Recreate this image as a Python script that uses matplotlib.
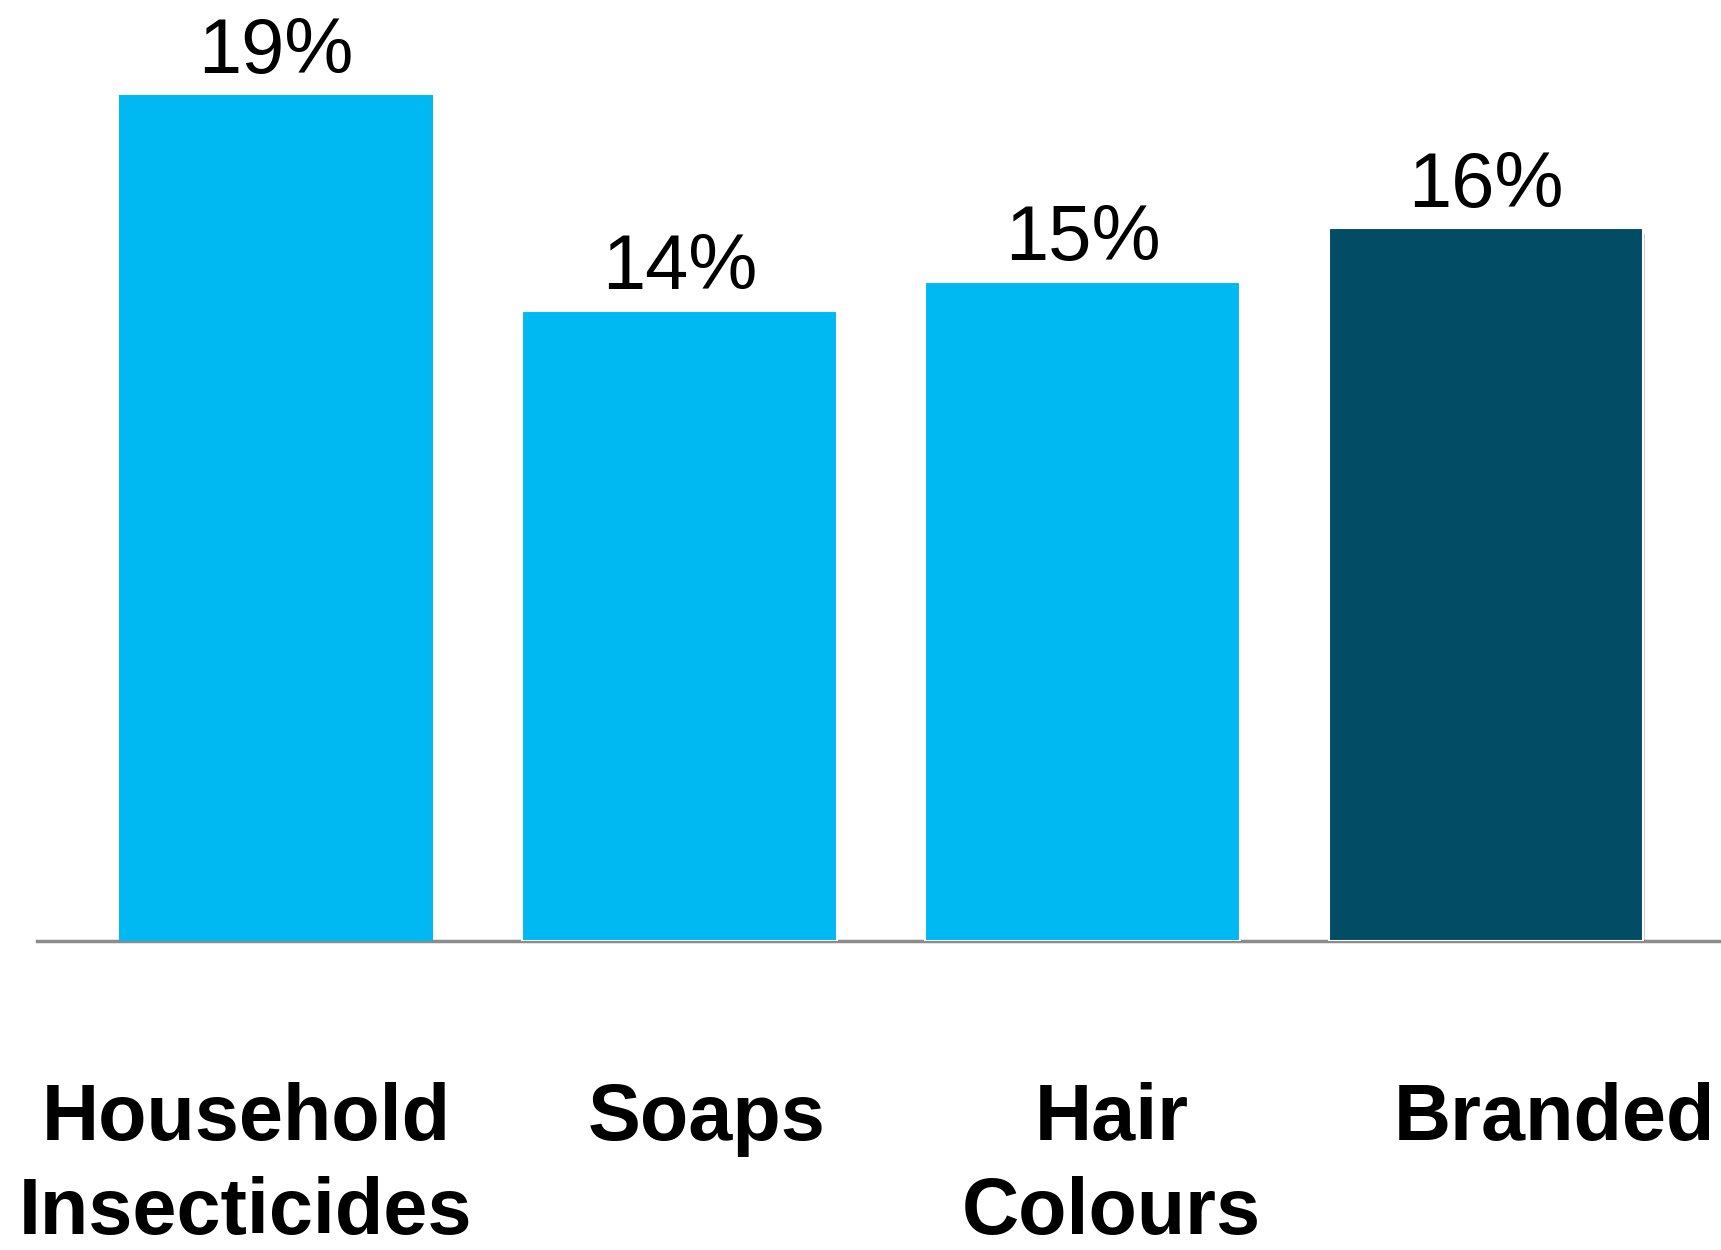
import matplotlib
matplotlib.use('Agg')
import matplotlib.pyplot as plt
import matplotlib.patheffects as pe
import matplotlib.transforms as mtransforms

categories = ['Household\nInsecticides', 'Soaps', 'Hair\nColours', 'Branded']
values = [19.0, 14.15, 14.8, 16.0]
value_labels = ['19%', '14%', '15%', '16%']

light_blue = '#00B9F2'
dark_blue = '#024C66'
colors = [light_blue, light_blue, light_blue, dark_blue]
# labels sit a little off the bar centres in the original
label_shift = [-0.075, 0.067, 0.072, 0.17]

plt.rcParams['font.family'] = ['Liberation Sans', 'DejaVu Sans']

fig = plt.figure(figsize=(17.21, 12.5), dpi=100)
ax = fig.add_axes([37 / 1721, 0.2472, 1 - 37 / 1721, 0.7528])

x = list(range(len(categories)))
bars = ax.bar(x, values, width=0.78, color=colors, zorder=3)

# bars after the first one have a thin white rim and a soft shadow
for b in bars[1:]:
    b.set_edgecolor('white')
    b.set_linewidth(1.5)
    b.set_path_effects([pe.SimplePatchShadow(offset=(1, -4), shadow_rgbFace='#555555', alpha=0.3),
                        pe.Normal()])

ax.bar_label(bars, labels=value_labels, padding=4, fontsize=56, color='black')

ax.set_xlim(-0.593, 3.583)
ax.set_ylim(0, 21.13)

for s in ['top', 'right', 'left']:
    ax.spines[s].set_visible(False)
ax.spines['bottom'].set_color('#8c8c8c')
ax.spines['bottom'].set_linewidth(2.5)
ax.spines['bottom'].set_zorder(1)
ax.set_xticks([])
ax.set_yticks([])

trans = mtransforms.blended_transform_factory(ax.transData, fig.transFigure)
for i, name in enumerate(categories):
    ax.text(i + label_shift[i], 0.1344, name, transform=trans, ha='center', va='top',
            fontsize=57, fontweight='bold', linespacing=1.32, clip_on=False)

fig.savefig('out.png', dpi=100)
